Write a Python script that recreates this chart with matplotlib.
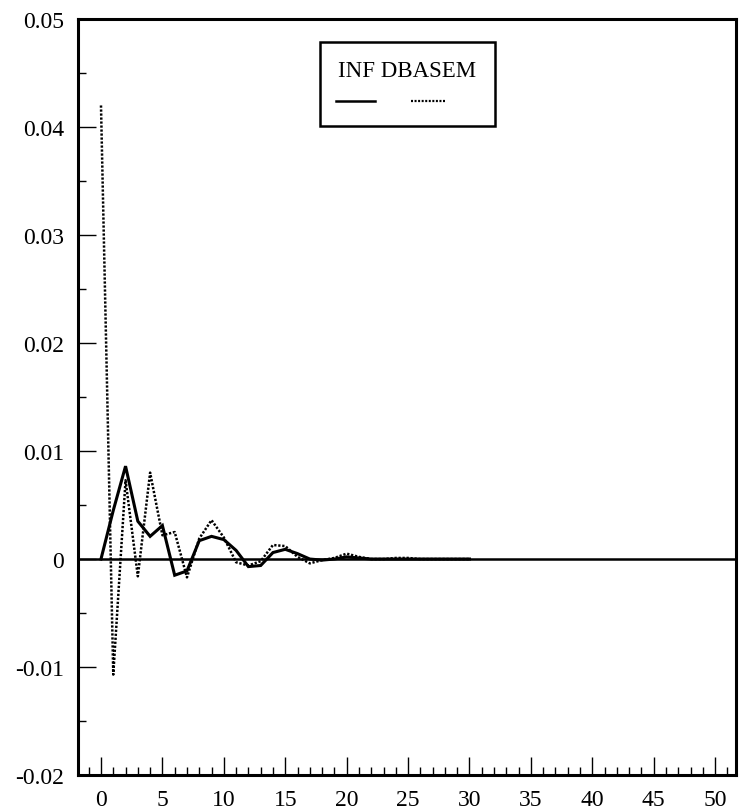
import matplotlib
matplotlib.use("Agg")
import matplotlib.pyplot as plt
from matplotlib.lines import Line2D
from matplotlib.patches import Rectangle
from matplotlib.ticker import MultipleLocator

periods = list(range(0, 31))
inf_values = [0.0, 0.0045, 0.0086, 0.0035, 0.0021, 0.0031, -0.0015, -0.0011,
              0.0017, 0.0021, 0.0018, 0.0008, -0.0007, -0.0006, 0.0006, 0.0009,
              0.0005, 0.0, -0.0001, 0.0, 0.0002, 0.0001, 0.0, 0.0, 0.0,
              0.0, 0.0, 0.0, 0.0, 0.0, 0.0]
dbasem_values = [0.0420, -0.0107, 0.0073, -0.0016, 0.0080, 0.0022, 0.0025, -0.0017,
                 0.0019, 0.0036, 0.0020, -0.0003, -0.0006, -0.0002, 0.0013, 0.0012,
                 0.0002, -0.0004, -0.0001, 0.0001, 0.0005, 0.0002, 0.0, 0.0, 0.0001,
                 0.0001, 0.0, 0.0, 0.0, 0.0, 0.0]
x_ticks = [0, 5, 10, 15, 20, 25, 30, 35, 40, 45, 50]
y_ticks = [-0.02, -0.01, 0.0, 0.01, 0.02, 0.03, 0.04, 0.05]
y_tick_labels = ["-0.02", "-0.01", "0", "0.01", "0.02", "0.03", "0.04", "0.05"]
legend_title = "INF DBASEM"

plt.rcParams['font.family'] = ['Liberation Serif', 'DejaVu Serif']

fig = plt.figure(figsize=(7.48, 8.12), dpi=100)
ax = fig.add_axes([0.1043, 0.0443, 0.8797, 0.931])

ax.axhline(0, color='black', lw=1.8, zorder=1)
ax.plot(periods, inf_values, color='black', lw=2.2, solid_joinstyle='miter', zorder=3)
ax.plot(periods, dbasem_values, color='black', lw=1.8, linestyle=(0, (0.9, 0.7)), zorder=2)

ax.set_xlim(-1.87, 51.7)
ax.set_ylim(-0.02, 0.05)
ax.set_xticks(x_ticks)
ax.set_xticklabels([str(t) for t in x_ticks])
ax.xaxis.set_minor_locator(MultipleLocator(1))
ax.set_yticks(y_ticks)
ax.set_yticklabels(y_tick_labels)
ax.yaxis.set_minor_locator(MultipleLocator(0.005))

ax.tick_params(axis='both', which='major', direction='in', length=13, width=1.0,
               labelsize=17, color='black')
ax.tick_params(axis='both', which='minor', direction='in', length=6, width=1.0)
ax.tick_params(axis='x', which='major', pad=10)
ax.tick_params(axis='y', which='major', pad=10)
ax.tick_params(top=False, right=False, which='both')

for s in ax.spines.values():
    s.set_linewidth(2.2)

# legend box
ax.add_patch(Rectangle((0.368, 0.858), 0.266, 0.112, transform=ax.transAxes,
                       fill=False, lw=1.8, edgecolor='black', zorder=5))
ax.text(0.5, 0.932, legend_title, transform=ax.transAxes, ha='center', va='center',
        fontsize=16.5, zorder=6)
ax.add_line(Line2D([0.392, 0.451], [0.891, 0.891], transform=ax.transAxes,
                   color='black', lw=1.8, zorder=6))
ax.add_line(Line2D([0.506, 0.559], [0.891, 0.891], transform=ax.transAxes,
                   color='black', lw=1.6, linestyle=(0, (0.9, 0.7)), zorder=6))

fig.savefig("out.png", dpi=100)
